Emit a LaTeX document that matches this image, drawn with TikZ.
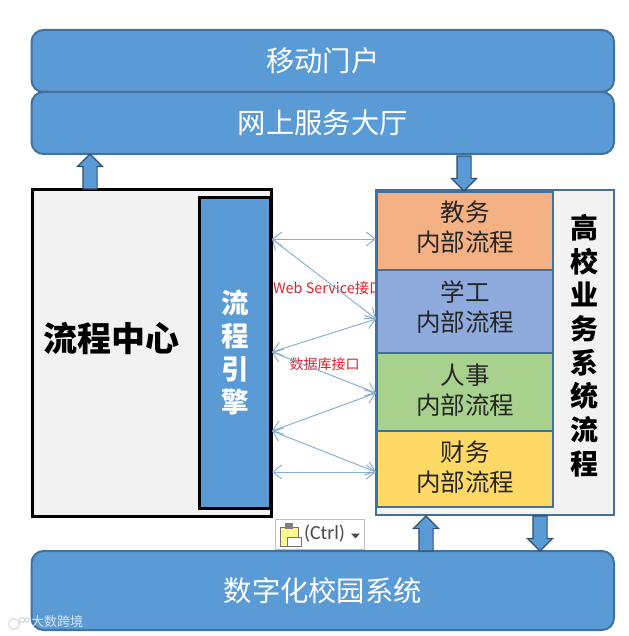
\documentclass[tikz,border=0pt]{standalone}
\usepackage{fontspec}
\setmainfont{Noto Sans CJK SC}
\newfontfamily\latinfont{Carlito}
\usepackage{xcolor}
\usetikzlibrary{shapes.arrows, arrows.meta, positioning}
\definecolor{paneblue}{HTML}{5B9BD5}
\definecolor{paneedge}{HTML}{41719C}
\definecolor{panegray}{HTML}{F2F2F2}
\definecolor{linkblue}{HTML}{8AAFD4}
\definecolor{labelred}{HTML}{D8232A}
\begin{document}
\begin{tikzpicture}[
    x=1pt, y=-1pt,
    node distance=0pt,
    every node/.style={inner sep=0pt, outer sep=0pt},
    bar/.style={rectangle, draw=paneedge, line width=2pt, fill=paneblue, rounded corners=12pt, minimum width=582.5pt, text=white, font=\fontsize{28.3}{28.3}\selectfont},
    inner/.style={rectangle, draw=paneedge, line width=2pt, minimum width=176pt, align=center, text=black!85, text depth=10pt, font=\fontsize{24.5}{30}\selectfont},
    pipe/.style={single arrow, draw=paneedge!70!black, line width=1.2pt, fill=paneblue, inner sep=6.5pt, minimum width=25pt, minimum height=35pt, single arrow head extend=5.5pt, single arrow head indent=0pt, anchor=tail},
    link/.style={{Straight Barb[length=9pt,width=14pt]}-{Straight Barb[length=9pt,width=14pt]}, draw=linkblue, line width=1pt},
    tag/.style={text=labelred, font=\fontsize{14.4}{14.4}\selectfont}
]
    \useasboundingbox (0,0) rectangle (628,636);
    % top and bottom bars
    \node [bar, minimum height=62pt] (portal) at (322.75,61) {移动门户};
    \node [bar, minimum height=62pt, below=of portal] (hall) {网上服务大厅};
    \node [bar, minimum height=79pt] (campus) at (322.75,590.5) {数字化校园系统};
    % left side
    \node [rectangle, draw=black, line width=3pt, fill=panegray, minimum width=239.5pt, minimum height=326pt] (center) at (152,353) {};
    \node [font=\fontsize{34}{34}\bfseries\selectfont, text=black] (centertext) at (111,339) {流程中心};
    \node [rectangle, draw=black, line width=3pt, fill=paneblue, minimum width=71.5pt, minimum height=310pt, align=center, text=white, font=\fontsize{27.5}{33}\bfseries\selectfont] (engine) at (235,353) {流\\程\\引\\擎};
    % labels go under the right side box
    \node [tag, anchor=west] (wslabel) at (273,288) {Web Service接口};
    \node [tag, font=\fontsize{14}{14}\selectfont] (dblabel) at (324.5,364) {数据库接口};
    % right side
    \node [rectangle, draw=paneedge, line width=2pt, fill=panegray, minimum width=238pt, minimum height=325pt] (system) at (495,352.5) {};
    \node [inner, minimum height=78pt, fill={rgb,255:red,244;green,177;blue,131}] (jiaowu) at (465,231) {教务\\内部流程};
    \node [inner, fill={rgb,255:red,143;green,170;blue,220}, minimum height=83pt, below=of jiaowu] (xuegong) {学工\\内部流程};
    \node [inner, fill={rgb,255:red,169;green,209;blue,142}, minimum height=78pt, text depth=6pt, below=of xuegong] (renshi) {人事\\内部流程};
    \node [inner, fill={rgb,255:red,255;green,217;blue,102}, minimum height=76pt, text depth=6pt, below=of renshi] (caiwu) {财务\\内部流程};
    \node [align=center, text=black, font=\fontsize{28}{33.7}\bfseries\selectfont] (systemtext) at (584,345.5) {高\\校\\业\\务\\系\\统\\流\\程};
    % block arrows
    \node [pipe, shape border rotate=90] (pipea) at (90,189) {};
    \node [pipe, shape border rotate=270] (pipeb) at (464,156) {};
    \node [pipe, shape border rotate=90] (pipec) at (426,551) {};
    \node [pipe, shape border rotate=270] (piped) at (540,516) {};
    % link ends
    \coordinate (ea) at (272,239);
    \coordinate (eb) at (272,352);
    \coordinate (ec) at (272,431);
    \coordinate (ed) at (272,472);
    \coordinate (sa) at (376,239);
    \coordinate (sb) at (376,319);
    \coordinate (sc) at (376,393);
    \coordinate (sd) at (376,472);
    \draw [link] (ea) -- (sa);
    \draw [link] (ea) -- (sb);
    \draw [link] (eb) -- (sb);
    \draw [link] (eb) -- (sc);
    \draw [link] (ec) -- (sc);
    \draw [link] (ec) -- (sd);
    \draw [link] (ed) -- (sd);
    % paste button
    \node [rectangle, draw=black!25, line width=1pt, fill=white, minimum width=89pt, minimum height=30pt] (paste) at (319.5,534) {};
    \fill [yellow!45!white, draw=black!55, line width=.8pt] (280,527) rectangle (298,546);
    \fill [black!50] (285,523) rectangle (293,529);
    \fill [white, draw=black!55, line width=.8pt] (287,537) rectangle (301,546);
    \node [anchor=west, text=black!70, font=\latinfont\fontsize{20}{20}\selectfont] (ctrl) at (304,534) {(Ctrl)};
    \fill [black!70] (351,533.5) -- (360,533.5) -- (355.5,538.5) -- cycle;
    % watermark
    \draw [black!15, line width=1.2pt] (14,624) circle (5.5pt) (22,620) circle (2.5pt) (27,620) circle (2pt);
    \node [anchor=west, text=white, opacity=.75, font=\fontsize{13}{13}\selectfont] (mark) at (31,622) {大数跨境};
\end{tikzpicture}
\end{document}
